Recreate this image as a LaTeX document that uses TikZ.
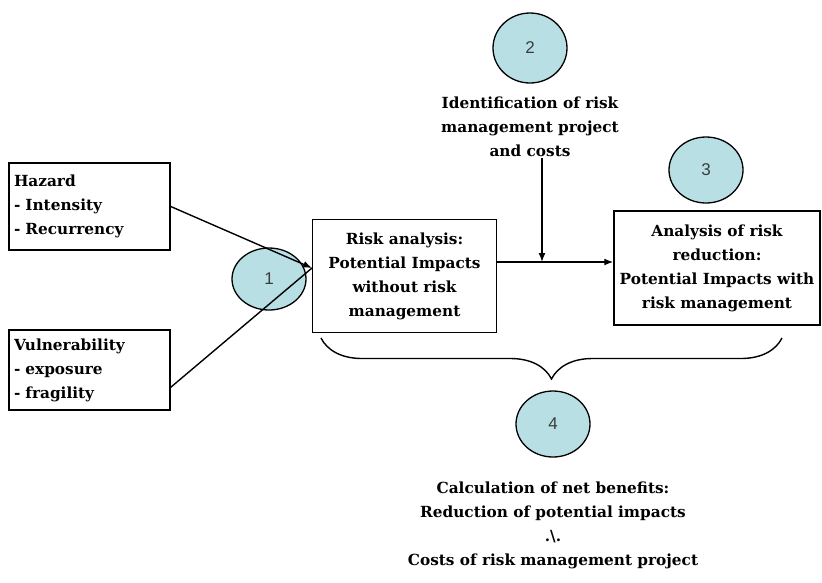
\documentclass[tikz,border=0pt]{standalone}
\usepackage{fontspec}
\setmainfont{DejaVu Serif}
\newfontfamily\numfont{Liberation Sans}
\usetikzlibrary{calc, arrows.meta, shapes.geometric, decorations.pathreplacing}
\definecolor{stepFill}{HTML}{B7DFE4}
\definecolor{stepNum}{HTML}{3C3C3C}

\tikzset{
    infobox/.style={draw, line width=1.5pt, fill=white, inner sep=0pt,
        font=\fontsize{15.3}{24}\selectfont\bfseries},
    numcirc/.style={draw, line width=1.3pt, ellipse, fill=stepFill,
        minimum width=74pt, minimum height=68pt, inner sep=0pt, text=stepNum,
        font=\numfont\fontsize{17}{20}\selectfont},
    plaintext/.style={align=center, inner sep=0pt,
        font=\fontsize{15.3}{24}\selectfont\bfseries},
}

\begin{document}
\begin{tikzpicture}[x=1pt, y=-1pt, >={Latex[length=9pt,width=7pt]},
    line width=1.4pt]
    \useasboundingbox (0,0) rectangle (822,582);

    % input boxes
    \node[infobox, minimum width=161pt, minimum height=87pt, text width=151pt,
        align=left] (hazard) at (89.5,206.5)
        {Hazard\\- Intensity\\- Recurrency};
    \node[infobox, minimum width=161pt, minimum height=80pt, text width=151pt,
        align=left] (vuln) at (89.5,370)
        {Vulnerability\\- exposure\\- fragility};

    % step 1
    \node[numcirc, minimum height=62pt] (n1) at (269,279) {1};

    % main boxes
    \node[infobox, minimum width=184pt, minimum height=113pt, align=center]
        (risk) at (404.5,276)
        {Risk analysis:\\Potential Impacts\\without risk\\management};
    \node[infobox, minimum width=206pt, minimum height=114pt, align=center]
        (reduc) at (717,268)
        {Analysis of risk\\reduction:\\Potential Impacts with\\risk management};

    % steps 2 and 3
    \node[numcirc, minimum height=70pt] (n2) at (530,48) {2};
    \node[plaintext] (ident) at (530,127)
        {Identification of risk\\management project\\and costs};
    \node[numcirc, minimum height=66pt] (n3) at (706,170) {3};

    \coordinate (tip) at (312,268);
    \coordinate (join) at (542,262);

    \draw[->] (hazard.east) -- (tip);
    \draw (vuln.-12) -- (tip);

    \draw[->] (risk.east |- join) -- (reduc.west |- join);
    \draw[->] (ident.south -| join) -- (join);

    % brace and step 4
    \draw[decorate, decoration={brace, mirror, amplitude=41pt}]
        (321,338) -- (782,338);
    \node[numcirc, minimum height=66pt] (n4) at (553,424) {4};
    \node[plaintext] (netben) at (553,525)
        {Calculation of net benefits:\\Reduction of potential impacts\\.\textbackslash.\\Costs of risk management project};
\end{tikzpicture}
\end{document}
